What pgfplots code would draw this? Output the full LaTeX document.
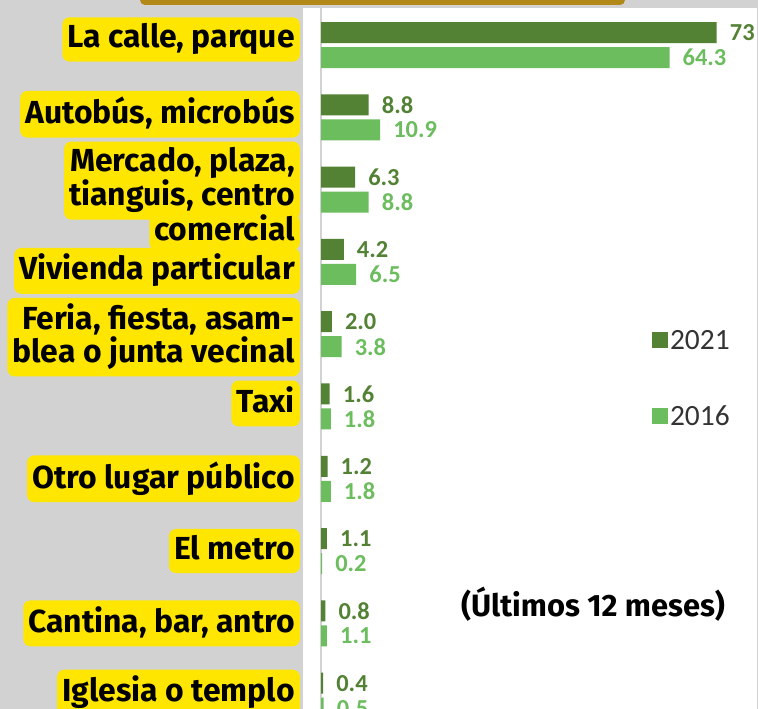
\documentclass[border=0pt]{standalone}
\usepackage{pgfplots}
\pgfplotsset{compat=1.18}
\usepackage{fontspec}
\setmainfont{Fira Sans}
\newfontfamily\carlito{Carlito}
\definecolor{dkg}{RGB}{84,130,53}
\definecolor{ltg}{RGB}{108,189,94}
\definecolor{ylw}{RGB}{255,230,0}
\definecolor{bgg}{RGB}{210,210,210}
\definecolor{gold}{RGB}{178,136,24}
\begin{document}
\begin{tikzpicture}[x=1bp,y=1bp,
  lab/.style={fill=ylw, rounded corners=7bp, inner xsep=5bp, inner ysep=6bp, text=black,
    font=\bfseries\fontsize{32}{24}\selectfont, align=right,
    execute at begin node={\rule{0pt}{24bp}}, execute at end node={\rule[-8bp]{0pt}{8bp}}}]
\useasboundingbox (0,0) rectangle (758,709);
\clip (0,0) rectangle (758,709);
\fill[bgg] (0,0) rectangle (758,709);
\fill[white] (303,0) rectangle (757,701);
\fill[gold, rounded corners=5bp] (140,720) rectangle (625,704);
\begin{axis}[
  at={(321bp,701bp)}, anchor=north west,
  scale only axis, width=436bp, height=731bp,
  xmin=0, xmax=80.44, ymin=-0.512, ymax=9.6, y dir=reverse,
  xbar, bar width=21bp,
  hide x axis, axis y line*=left, y axis line style={draw=gray!35, line width=1.2bp},
  ytick=\empty,
  clip=false,
  point meta=explicit symbolic,
  nodes near coords,
  nodes near coords style={anchor=west, inner sep=0pt, xshift=13bp, font=\carlito\bfseries\fontsize{24.5}{24.5}\selectfont},
  legend style={at={(0.752,0.493)}, anchor=west, draw=none, fill=none,
    font=\carlito\fontsize{29.5}{29.5}\selectfont, text=black!80, row sep=51bp},
  legend cell align=left,
  legend image code/.code={\fill[#1] (0bp,-8bp) rectangle (16bp,8bp);},
]
\addplot[color=dkg, fill=dkg, draw=none, bar shift=12.5bp, nodes near coords style={text=dkg}]
 coordinates {(73,0)[73] (8.8,1)[8.8] (6.3,2)[6.3] (4.2,3)[4.2] (2.0,4)[2.0] (1.6,5)[1.6] (1.2,6)[1.2] (1.1,7)[1.1] (0.8,8)[0.8] (0.4,9)[0.4]};
\addlegendentry{2021}
\addplot[color=ltg, fill=ltg, draw=none, bar shift=-12.5bp, nodes near coords style={text=ltg}]
 coordinates {(64.3,0)[64.3] (10.9,1)[10.9] (8.8,2)[8.8] (6.5,3)[6.5] (3.8,4)[3.8] (1.8,5)[1.8] (1.8,6)[1.8] (0.2,7)[0.2] (1.1,8)[1.1] (0.5,9)[0.5]};
\addlegendentry{2016}
\node[lab, anchor=east, xshift=-21bp, yshift=5.5bp] at (axis cs:0,0) {La calle, parque};
\node[lab, anchor=east, xshift=-21bp, yshift=3bp] at (axis cs:0,1) {Autobús, microbús};
\node[lab, anchor=east, xshift=-21bp, yshift=9bp] (merc) at (axis cs:0,2) {Mercado, plaza,\\tianguis, centro};
\node[lab, anchor=north east, inner ysep=1bp, yshift=6bp, execute at begin node={}, execute at end node={}] at (merc.south east) {comercial};
\node[lab, anchor=east, xshift=-21bp, yshift=-9bp] at (axis cs:0,3) {Vivienda particular};
\node[lab, anchor=east, xshift=-21bp, yshift=-3bp] at (axis cs:0,4) {Feria, fiesta, asam-\\blea o junta vecinal};
\node[lab, anchor=east, xshift=-21bp, yshift=3bp] at (axis cs:0,5) {Taxi};
\node[lab, anchor=east, xshift=-21bp] at (axis cs:0,6) {Otro lugar público};
\node[lab, anchor=east, xshift=-21bp] at (axis cs:0,7) {El metro};
\node[lab, anchor=east, xshift=-21bp] at (axis cs:0,8) {Cantina, bar, antro};
\node[lab, anchor=east, xshift=-21bp, yshift=3bp] at (axis cs:0,9) {Iglesia o templo};
\end{axis}
\node[font=\bfseries\fontsize{31}{31}\selectfont] at (593,105) {(Últimos 12 meses)};
\end{tikzpicture}
\end{document}
